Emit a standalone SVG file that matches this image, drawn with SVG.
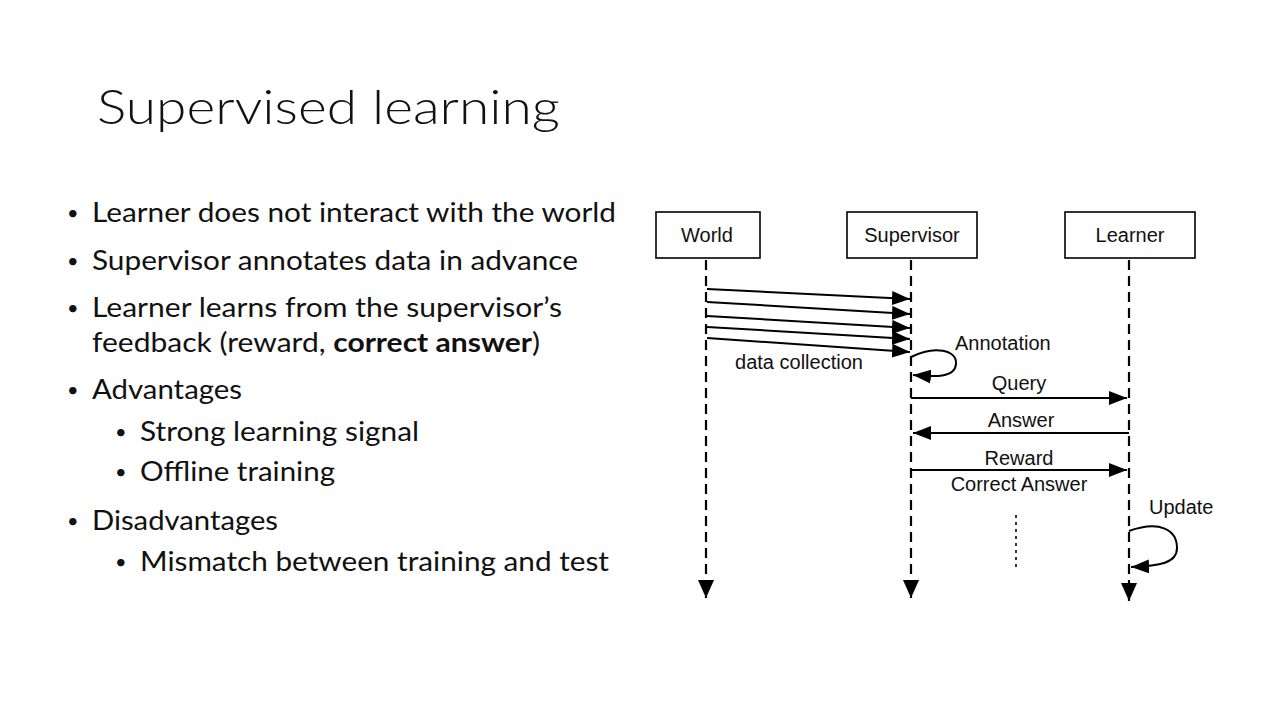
<svg xmlns="http://www.w3.org/2000/svg" width="1280" height="720" viewBox="0 0 1280 720">
<defs>
<marker id="ah" viewBox="0 0 18 14" refX="18" refY="7" markerWidth="18" markerHeight="14" markerUnits="userSpaceOnUse" orient="auto">
<path d="M0,0 L18,7 L0,14 Z" fill="#000"/>
</marker>
<marker id="ahl" viewBox="0 0 18 16" refX="18" refY="8" markerWidth="18" markerHeight="16" markerUnits="userSpaceOnUse" orient="auto">
<path d="M0,0 L18,8 L0,16 Z" fill="#000"/>
</marker>
</defs>
<style>
.slide{font-family:Lato,"Open Sans",sans-serif;fill:#111}
.t{font-size:27px}
.b{font-size:20px}
.d{font-family:"Liberation Sans",Arial,sans-serif;font-size:20px;fill:#111}
.box{fill:#fff;stroke:#000;stroke-width:1.6}
.life{stroke:#000;stroke-width:2.2;stroke-dasharray:10,6;fill:none;marker-end:url(#ahl)}
.msg{stroke:#000;stroke-width:2;fill:none;marker-end:url(#ah)}
</style>
<rect width="1280" height="720" fill="#fff"/>
<text class="slide" x="97" y="124" font-size="48" font-weight="300" textLength="463" lengthAdjust="spacingAndGlyphs">Supervised learning</text>
<g class="slide t">
<text class="b" x="67" y="220">•</text><text x="92" y="222" textLength="524" lengthAdjust="spacingAndGlyphs">Learner does not interact with the world</text>
<text class="b" x="67" y="268">•</text><text x="92" y="270" textLength="486" lengthAdjust="spacingAndGlyphs">Supervisor annotates data in advance</text>
<text class="b" x="67" y="315">•</text><text x="92" y="317" textLength="470" lengthAdjust="spacingAndGlyphs">Learner learns from the supervisor’s</text>
<text x="92" y="352" textLength="448" lengthAdjust="spacingAndGlyphs">feedback (reward, <tspan font-weight="bold">correct answer</tspan>)</text>
<text class="b" x="67" y="397">•</text><text x="92" y="399" textLength="150" lengthAdjust="spacingAndGlyphs">Advantages</text>
<text class="b" x="115" y="439">•</text><text x="140" y="441" textLength="279" lengthAdjust="spacingAndGlyphs">Strong learning signal</text>
<text class="b" x="115" y="479">•</text><text x="140" y="481" textLength="195" lengthAdjust="spacingAndGlyphs">Offline training</text>
<text class="b" x="67" y="528">•</text><text x="92" y="530" textLength="186" lengthAdjust="spacingAndGlyphs">Disadvantages</text>
<text class="b" x="115" y="569">•</text><text x="140" y="571" textLength="469" lengthAdjust="spacingAndGlyphs">Mismatch between training and test</text>
</g>
<g id="world">
<rect class="box" x="656" y="212" width="104" height="46"/>
<text class="d" x="707" y="242" text-anchor="middle">World</text>
</g>
<g id="supervisor">
<rect class="box" x="847" y="212" width="130" height="46"/>
<text class="d" x="912" y="242" text-anchor="middle">Supervisor</text>
</g>
<g id="learner">
<rect class="box" x="1065" y="212" width="130" height="46"/>
<text class="d" x="1130" y="242" text-anchor="middle">Learner</text>
</g>
<g id="connectors">
<line class="life" x1="706" y1="260" x2="706" y2="598"/>
<line class="life" x1="911" y1="260" x2="911" y2="598"/>
<line class="life" x1="1129" y1="260" x2="1129" y2="601"/>
<line class="msg" x1="707" y1="289" x2="910" y2="299"/>
<line class="msg" x1="707" y1="302" x2="910" y2="314"/>
<line class="msg" x1="707" y1="316" x2="910" y2="328"/>
<line class="msg" x1="707" y1="327" x2="910" y2="339"/>
<line class="msg" x1="707" y1="338" x2="910" y2="352"/>
<path class="msg" d="M911,357 C935,345 957,350 956,364 C955,378 935,377 913,375"/>
<line class="msg" x1="911" y1="398" x2="1127" y2="398"/>
<line class="msg" x1="1129" y1="433" x2="913" y2="433"/>
<line class="msg" x1="911" y1="470" x2="1127" y2="470"/>
<line x1="1016" y1="515" x2="1016" y2="568" stroke="#000" stroke-width="1.6" stroke-dasharray="3,4"/>
<path class="msg" d="M1129,531 C1160,520 1177,530 1177,548 C1177,563 1160,566 1131,567"/>
</g>
<g id="labels" class="d">
<text x="799" y="369" text-anchor="middle">data collection</text>
<text x="955" y="350">Annotation</text>
<text x="1019" y="390" text-anchor="middle">Query</text>
<text x="1021" y="427" text-anchor="middle">Answer</text>
<text x="1019" y="465" text-anchor="middle">Reward</text>
<text x="1019" y="491" text-anchor="middle">Correct Answer</text>
<text x="1149" y="514">Update</text>
</g>
</svg>
